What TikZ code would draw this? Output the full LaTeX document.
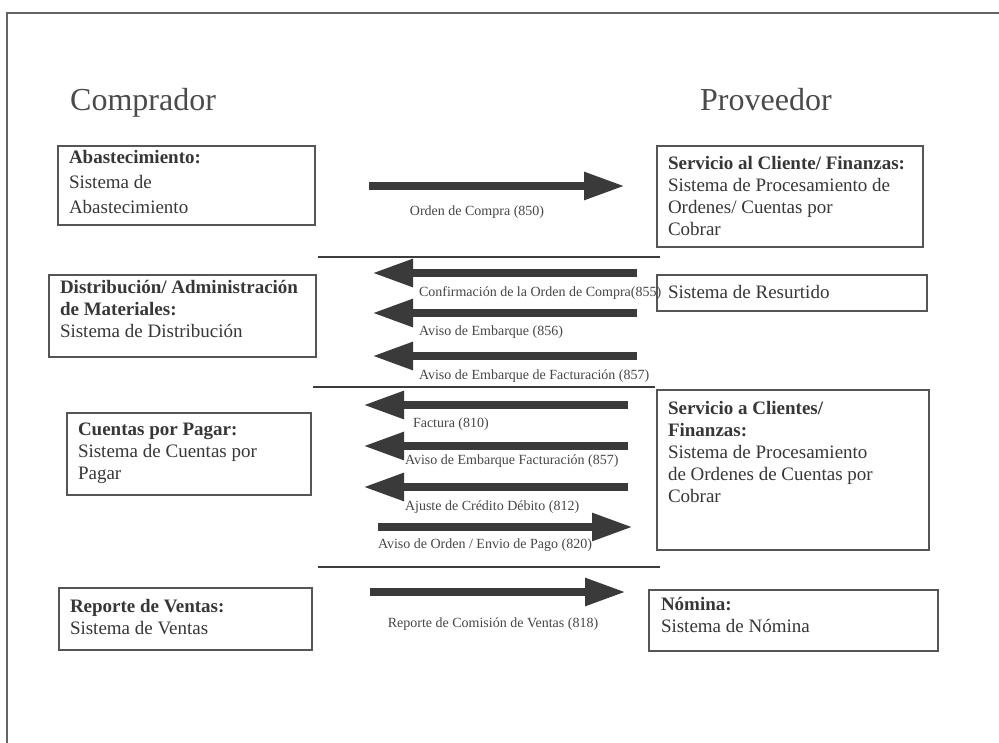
\documentclass[tikz,border=0pt]{standalone}
\usepackage{fontspec}
\setmainfont{Liberation Serif}
\usepackage{xcolor}
\usepackage{tikz}
\usetikzlibrary{arrows.meta}
\definecolor{drawColor}{RGB}{55,55,55}
\definecolor{headColor}{RGB}{75,75,75}
\definecolor{labelColor}{RGB}{70,70,70}
\definecolor{boxColor}{RGB}{85,85,85}
\definecolor{lineColor}{RGB}{60,60,60}
\definecolor{arrowColor}{RGB}{58,58,58}
\definecolor{frameColor}{RGB}{100,100,100}
\tikzset{flow/.style = {draw=arrowColor, line width=8.5pt, -{Triangle[length=41pt,width=26pt]}}}
\tikzset{sysbox/.style = {draw=boxColor, line width=1.1pt, inner sep=0pt, outer sep=0pt, anchor=north west}}
\tikzset{systext/.style = {text=drawColor, align=left, anchor=north west, inner sep=0pt, outer sep=0pt, font=\fontsize{19}{22}\selectfont}}
\tikzset{flowlabel/.style = {text=labelColor, inner sep=0pt, outer sep=0pt, font=\fontsize{14}{16}\selectfont}}
\tikzset{sepline/.style = {draw=lineColor, line width=1.4pt}}
\begin{document}
\begin{tikzpicture}[x=1pt,y=-1pt]
\definecolor{fillColor}{RGB}{255,255,255}
\path[use as bounding box,fill=fillColor] (0,0) rectangle (999,743);
\path[draw=frameColor,line width=1.5pt] (7,743) -- (7,13) -- (999,13);

% headers
\node[text=headColor,anchor=base west,inner sep=0pt,font=\fontsize{32}{36}\selectfont] (buyer) at (70,111) {Comprador};
\node[text=headColor,anchor=base west,inner sep=0pt,font=\fontsize{32}{36}\selectfont] (supplier) at (700,111) {Proveedor};

% buyer systems
\node[sysbox,minimum width=257pt,minimum height=79pt] (abast) at (58,146) {};
\node[systext,font=\fontsize{19}{25}\selectfont] (abastTxt) at (69,150) {\textbf{Abastecimiento:}\\Sistema de\\Abastecimiento};
\node[sysbox,minimum width=267pt,minimum height=82pt] (distrib) at (49,275) {};
\node[systext] (distribTxt) at (60,280) {\textbf{Distribución/ Administración}\\\textbf{de Materiales:}\\Sistema de Distribución};
\node[sysbox,minimum width=244pt,minimum height=82pt] (ctaspag) at (67,413) {};
\node[systext] (ctaspagTxt) at (78,423) {\textbf{Cuentas por Pagar:}\\Sistema de Cuentas por\\Pagar};
\node[sysbox,minimum width=253pt,minimum height=62pt] (ventas) at (59,588) {};
\node[systext] (ventasTxt) at (70,599) {\textbf{Reporte de Ventas:}\\Sistema de Ventas};

% supplier systems
\node[sysbox,minimum width=266pt,minimum height=101pt] (servcli) at (657,146) {};
\node[systext] (servcliTxt) at (668,156) {\textbf{Servicio al Cliente/ Finanzas:}\\Sistema de Procesamiento de\\Ordenes/ Cuentas por\\Cobrar};
\node[sysbox,minimum width=270pt,minimum height=36pt] (resurt) at (657,275) {};
\node[systext,anchor=base west] (resurtTxt) at (668,299) {Sistema de Resurtido};
\node[sysbox,minimum width=272pt,minimum height=160pt] (servcliB) at (657,390) {};
\node[systext] (servcliBTxt) at (668,401) {\textbf{Servicio a Clientes/}\\\textbf{Finanzas:}\\Sistema de Procesamiento\\de Ordenes de Cuentas por\\Cobrar};
\node[sysbox,minimum width=289pt,minimum height=61pt] (nomina) at (649,590) {};
\node[systext] (nominaTxt) at (661,597) {\textbf{Nómina:}\\Sistema de Nómina};

% separators
\path[sepline] (318,257) -- (660,257);
\path[sepline] (313,387) -- (655,387);
\path[sepline] (318,567) -- (660,567);

% transactions
\coordinate (t850s) at (369,186); \coordinate (t850e) at (625,186);
\draw[flow] (t850s) -- (t850e);
\node[flowlabel,anchor=base] (l850) at (477,216) {Orden de Compra (850)};

\coordinate (t855s) at (637,273); \coordinate (t855e) at (372,273);
\draw[flow] (t855s) -- (t855e);
\node[flowlabel,anchor=base west] (l855) at (419,297) {Confirmación de la Orden de Compra(855)};

\coordinate (t856s) at (637,313); \coordinate (t856e) at (372,313);
\draw[flow] (t856s) -- (t856e);
\node[flowlabel,anchor=base west] (l856) at (419,336) {Aviso de Embarque (856)};

\coordinate (t857s) at (637,356); \coordinate (t857e) at (372,356);
\draw[flow] (t857s) -- (t857e);
\node[flowlabel,anchor=base west] (l857) at (419,379) {Aviso de Embarque de Facturación (857)};

\coordinate (t810s) at (628,405); \coordinate (t810e) at (363,405);
\draw[flow] (t810s) -- (t810e);
\node[flowlabel,anchor=base west] (l810) at (413,427) {Factura (810)};

\coordinate (t857bs) at (628,446); \coordinate (t857be) at (363,446);
\draw[flow] (t857bs) -- (t857be);
\node[flowlabel,anchor=base west] (l857b) at (405,464) {Aviso de Embarque Facturación (857)};

\coordinate (t812s) at (628,487); \coordinate (t812e) at (363,487);
\draw[flow] (t812s) -- (t812e);
\node[flowlabel,anchor=base west] (l812) at (405,510) {Ajuste de Crédito Débito (812)};

\coordinate (t820s) at (378,527); \coordinate (t820e) at (633,527);
\draw[flow] (t820s) -- (t820e);
\node[flowlabel,anchor=base west] (l820) at (378,548) {Aviso de Orden / Envio de Pago (820)};

\coordinate (t818s) at (370,592); \coordinate (t818e) at (626,592);
\draw[flow] (t818s) -- (t818e);
\node[flowlabel,anchor=base] (l818) at (493,627) {Reporte de Comisión de Ventas (818)};
\end{tikzpicture}
\end{document}
